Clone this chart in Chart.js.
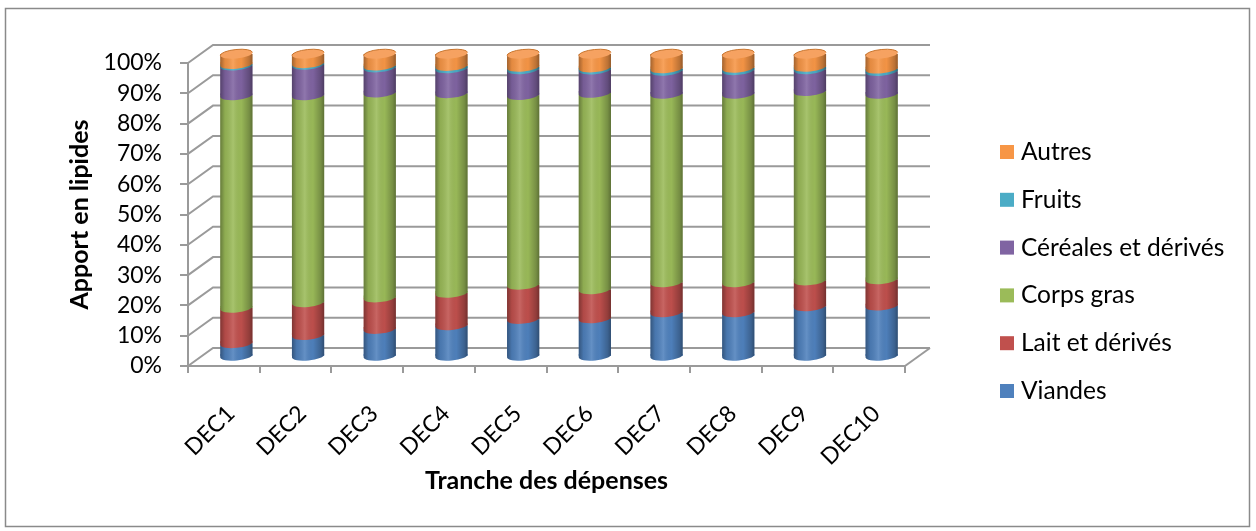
<!DOCTYPE html>
<html lang="fr">
<head>
<meta charset="utf-8">
<title>Apport en lipides par tranche des dépenses</title>
<script src="https://cdn.jsdelivr.net/npm/chart.js@4.4.1/dist/chart.umd.min.js"></script>
<style>
  html, body { margin: 0; padding: 0; background: #fff; }
  #wrap { position: relative; width: 1256px; height: 531px; }
</style>
</head>
<body>
<div id="wrap"><canvas id="lipides" width="1256" height="531"></canvas></div>
<script>
// tranches de dépenses (déciles)
const deciles = ["DEC1", "DEC2", "DEC3", "DEC4", "DEC5", "DEC6", "DEC7", "DEC8", "DEC9", "DEC10"];

// part de chaque groupe d'aliments dans l'apport en lipides (%)
const viandes  = [4.5, 7.2, 9.2, 10.4, 12.5, 12.7, 14.7, 14.7, 16.7, 16.9];
const lait     = [11.7, 10.8, 10.4, 10.7, 11.3, 9.6, 9.9, 9.9, 8.5, 8.7];
const corps    = [70.1, 68.3, 67.6, 65.9, 62.6, 64.8, 62.2, 62.2, 62.5, 61.2];
const cereales = [9.8, 10.1, 8.3, 8.2, 8.5, 7.7, 7.6, 7.8, 7.2, 7.5];
const fruits   = [0.5, 0.5, 0.6, 0.8, 0.8, 0.7, 0.8, 0.8, 0.8, 0.8];
const autres   = [3.4, 3.1, 3.9, 4.0, 4.3, 4.5, 4.8, 4.6, 4.3, 4.9];

const pctTicks = [0, 10, 20, 30, 40, 50, 60, 70, 80, 90, 100];

// profondeur de la vue 3D
const DX = 25, DY = -18;
const RY = 4.5, TILT = -0.1;
const GRID = "#9a9a9a";
const FONT = "Lato, 'Open Sans', sans-serif";

const series = [
  { label: "Viandes", data: viandes, color: "#4F81BD" },
  { label: "Lait et dérivés", data: lait, color: "#C0504D" },
  { label: "Corps gras", data: corps, color: "#9BBB59" },
  { label: "Céréales et dérivés", data: cereales, color: "#8064A2" },
  { label: "Fruits", data: fruits, color: "#4BACC6" },
  { label: "Autres", data: autres, color: "#F79646" }
];

// demi-ellipse avant d'un segment, avec une petite bande au-dessus pour masquer les joints
function lowerCap(ctx, x, yb, w, band) {
  const r = w / 2;
  ctx.beginPath();
  ctx.moveTo(x + r, yb - band);
  ctx.lineTo(x + r, yb);
  ctx.ellipse(x, yb, r, RY, TILT, 0, Math.PI);
  ctx.lineTo(x - r, yb - band);
  ctx.closePath();
}

// murs, sol et cylindres
const relief = {
  id: "relief",
  beforeDraw(chart) {
    const ctx = chart.ctx;
    ctx.save();
    ctx.strokeStyle = "#8a8a8a";
    ctx.lineWidth = 1.5;
    ctx.strokeRect(5.5, 8.5, 1244, 518);
    ctx.restore();
  },
  beforeDatasetsDraw(chart) {
    const { ctx, chartArea: a, scales: { y } } = chart;
    ctx.save();
    ctx.strokeStyle = GRID;
    ctx.lineWidth = 2;
    pctTicks.forEach(v => {
      const py = y.getPixelForValue(v);
      ctx.beginPath();
      ctx.moveTo(a.left, py);
      ctx.lineTo(a.left + DX, py + DY);
      ctx.lineTo(a.right + DX, py + DY);
      ctx.stroke();
    });
    // bord droit du sol
    ctx.beginPath();
    ctx.moveTo(a.right, a.bottom);
    ctx.lineTo(a.right + DX, a.bottom + DY);
    ctx.stroke();
    ctx.restore();

    ctx.save();
    ctx.translate(DX / 2, DY / 2);
  },
  afterDatasetsDraw(chart) {
    const ctx = chart.ctx;
    const metas = chart.data.datasets.map((d, i) => chart.getDatasetMeta(i));

    // arrondi des séparations entre segments
    metas.forEach((meta, i) => {
      ctx.fillStyle = series[i].color;
      meta.data.forEach(bar => {
        const { x, y, base, width } = bar.getProps(["x", "y", "base", "width"], true);
        lowerCap(ctx, x, base, width, Math.min(2, base - y));
        ctx.fill();
      });
    });

    // ombrage cylindrique + face supérieure
    const first = metas[0], last = metas[metas.length - 1];
    first.data.forEach((bar, j) => {
      const { x, base, width } = bar.getProps(["x", "base", "width"], true);
      const top = last.data[j].getProps(["y"], true).y;
      const l = x - width / 2;
      const g = ctx.createLinearGradient(l, 0, l + width, 0);
      g.addColorStop(0, "rgba(0,0,0,0.34)");
      g.addColorStop(0.15, "rgba(0,0,0,0.08)");
      g.addColorStop(0.4, "rgba(255,255,255,0.12)");
      g.addColorStop(0.65, "rgba(0,0,0,0.02)");
      g.addColorStop(0.9, "rgba(0,0,0,0.24)");
      g.addColorStop(1, "rgba(0,0,0,0.40)");
      lowerCap(ctx, x, base, width, base - top);
      ctx.fillStyle = g;
      ctx.fill();

      ctx.beginPath();
      ctx.ellipse(x, top, width / 2, RY, TILT, 0, Math.PI * 2);
      ctx.fillStyle = "#F6A261";
      ctx.fill();
      ctx.beginPath();
      ctx.ellipse(x, top, width / 2, RY, TILT, Math.PI, Math.PI * 2);
      ctx.strokeStyle = "#C8752E";
      ctx.lineWidth = 1;
      ctx.stroke();
    });
    ctx.restore();
  },
  afterDraw(chart) {
    // légende, dans l'ordre inverse des séries
    const ctx = chart.ctx;
    ctx.save();
    ctx.font = "24.5px " + FONT;
    ctx.textBaseline = "middle";
    series.slice().reverse().forEach((s, k) => {
      const cy = 152 + k * 47.8;
      ctx.fillStyle = s.color;
      ctx.fillRect(1000, cy - 7, 14, 14);
      ctx.fillStyle = "#000";
      ctx.fillText(s.label, 1021, cy);
    });
    ctx.restore();
  }
};

new Chart(document.getElementById("lipides"), {
  type: "bar",
  data: {
    labels: deciles,
    datasets: series.map(s => ({
      label: s.label,
      data: s.data,
      backgroundColor: s.color,
      borderWidth: 0,
      categoryPercentage: 1,
      barPercentage: 0.45,
      clip: false
    }))
  },
  options: {
    responsive: false,
    animation: false,
    events: [],
    layout: { padding: { left: 0, top: 63, right: 351, bottom: 0 } },
    plugins: { legend: { display: false }, tooltip: { enabled: false } },
    scales: {
      x: {
        stacked: true,
        afterFit: s => { s.height = 165; },
        grid: { drawOnChartArea: false, drawTicks: true, tickLength: 7, color: GRID, lineWidth: 2 },
        border: { display: true, color: GRID, width: 2 },
        ticks: {
          color: "#000", font: { family: FONT, size: 23 }, autoSkip: false,
          minRotation: 45, maxRotation: 45, padding: 27, labelOffset: 7
        },
        title: {
          display: true, text: "Tranche des dépenses", color: "#000",
          font: { family: FONT, size: 25, weight: "bold" }, padding: { top: 0, bottom: 35 }
        }
      },
      y: {
        stacked: true,
        min: 0, max: 100,
        afterFit: s => { s.width = 188; },
        afterBuildTicks: s => { s.ticks = pctTicks.map(v => ({ value: v })); },
        grid: { drawOnChartArea: false, drawTicks: true, tickLength: 8, color: GRID, lineWidth: 2 },
        border: { display: true, color: GRID, width: 2 },
        ticks: {
          color: "#000", font: { family: FONT, size: 23 }, padding: 18, autoSkip: false,
          callback: v => v + "%"
        },
        title: {
          display: true, text: "Apport en lipides", color: "#000",
          font: { family: FONT, size: 25, weight: "bold" }, padding: { top: 65, bottom: 0 }
        }
      }
    }
  },
  plugins: [relief]
});
</script>
</body>
</html>
